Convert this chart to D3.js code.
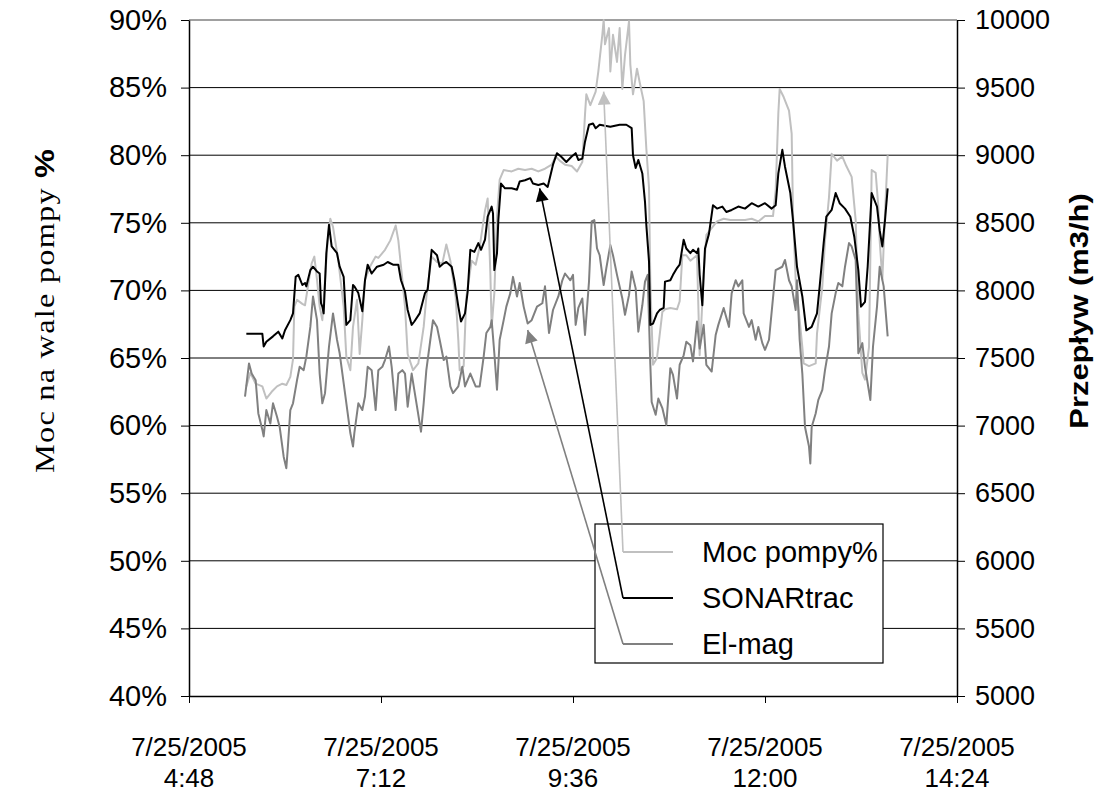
<!DOCTYPE html>
<html>
<head>
<meta charset="utf-8">
<script src="https://cdn.jsdelivr.net/npm/d3@7/dist/d3.min.js"></script>
<style>
  body { margin: 0; background: #fff; }
  text { font-family: "Liberation Sans", Arial, sans-serif; }
</style>
</head>
<body>
<div id="chart"></div>
<script>
// ---- data ----
const day = '2005-07-25';
const xTickTimes = ['4:48', '7:12', '9:36', '12:00', '14:24'];
const xTickDate = '7/25/2005';
const pctTicks = [0.40, 0.45, 0.50, 0.55, 0.60, 0.65, 0.70, 0.75, 0.80, 0.85, 0.90];
const flowTicks = [5000, 5500, 6000, 6500, 7000, 7500, 8000, 8500, 9000, 9500, 10000];

// Moc pompy% (left axis, %)
const pumpTimes = ['5:31','5:34','5:38','5:43','5:46','5:50','5:54','5:58','6:01','6:04','6:06','6:07','6:09','6:13','6:15','6:18','6:20','6:22','6:24','6:26','6:28','6:30','6:32','6:34','6:36','6:40','6:44','6:46','6:49','6:51','6:54','6:56','6:58','7:00','7:04','7:08','7:10','7:15','7:19','7:23','7:25','7:28','7:30','7:32','7:36','7:40','7:44','7:46','7:50','7:54','7:58','8:01','8:04','8:08','8:10','8:11','8:14','8:16','8:20','8:23','8:26','8:30','8:32','8:34','8:35','8:37','8:39','8:41','8:44','8:50','8:55','9:00','9:05','9:10','9:15','9:20','9:23','9:26','9:30','9:35','9:39','9:43','9:45','9:46','9:49','9:53','9:55','9:58','9:59','10:00','10:03','10:04','10:06','10:09','10:11','10:13','10:15','10:18','10:19','10:21','10:24','10:26','10:29','10:31','10:33','10:34','10:36','10:39','10:43','10:45','10:49','10:54','10:56','10:58','11:01','11:04','11:09','11:11','11:14','11:16','11:20','11:24','11:29','11:34','11:40','11:45','11:50','11:55','12:00','12:06','12:08','12:10','12:11','12:14','12:18','12:20','12:21','12:23','12:25','12:28','12:29','12:33','12:38','12:39','12:43','12:45','12:48','12:50','12:54','12:58','13:01','13:05','13:08','13:10','13:13','13:15','13:18','13:20','13:23','13:25','13:26','13:28','13:30','13:32'];
const pumpPct = [62.9,63.9,63.1,62.9,62.0,62.5,62.9,63.1,63.0,63.6,64.9,68.8,69.3,69.0,68.9,70.8,72.0,72.5,70.8,68.8,67.8,70.8,73.7,75.3,74.7,72.2,68.8,65.1,64.1,67.3,69.3,65.3,67.8,70.8,71.8,72.5,72.4,73.0,73.7,74.8,73.7,70.8,68.8,65.3,64.1,64.6,67.3,69.5,72.5,72.1,72.0,73.4,72.2,69.5,66.3,64.1,64.4,69.5,72.2,71.9,73.2,75.9,76.8,71.3,67.3,69.8,75.5,78.2,78.9,78.8,79.0,78.9,79.0,78.8,79.0,79.3,79.9,79.6,79.3,79.2,78.8,79.5,83.0,84.5,83.7,84.7,86.2,88.9,90.0,88.2,89.4,86.2,88.9,86.9,89.4,84.9,87.4,89.9,86.7,84.5,86.4,85.4,84.0,80.5,77.6,70.6,64.5,65.0,68.4,68.6,68.7,68.6,69.2,72.6,72.6,72.2,72.6,65.2,71.1,74.1,74.6,75.1,75.3,75.2,75.2,75.2,75.3,75.1,75.5,75.5,77.4,83.1,84.9,84.3,83.3,81.6,75.7,70.8,68.8,65.8,64.6,64.4,64.6,66.8,70.3,73.7,76.9,80.1,79.6,79.9,79.2,78.4,75.2,68.3,63.9,63.4,65.8,78.9,78.7,76.2,73.7,70.8,75.7,80.0];

// SONARtrac (right axis, m3/h)
const sonarTimes = ['5:31','5:43','5:44','5:46','5:51','5:55','5:58','6:00','6:04','6:06','6:08','6:10','6:13','6:15','6:16','6:19','6:21','6:24','6:26','6:27','6:28','6:29','6:31','6:33','6:35','6:39','6:41','6:44','6:46','6:49','6:51','6:52','6:55','6:58','7:00','7:02','7:05','7:09','7:14','7:17','7:21','7:25','7:27','7:30','7:32','7:35','7:37','7:41','7:45','7:47','7:50','7:54','7:56','7:59','8:01','8:05','8:07','8:10','8:12','8:15','8:17','8:19','8:22','8:25','8:27','8:30','8:32','8:35','8:36','8:37','8:39','8:40','8:42','8:45','8:50','8:54','8:56','9:00','9:04','9:06','9:10','9:14','9:17','9:21','9:24','9:27','9:31','9:35','9:38','9:40','9:43','9:45','9:48','9:51','9:53','9:56','10:04','10:11','10:16','10:20','10:21','10:23','10:25','10:28','10:30','10:31','10:33','10:34','10:36','10:39','10:41','10:44','10:45','10:49','10:51','10:54','10:56','10:59','11:01','11:04','11:06','11:09','11:10','11:11','11:13','11:14','11:15','11:18','11:21','11:24','11:28','11:31','11:35','11:40','11:45','11:50','11:55','12:00','12:05','12:08','12:10','12:13','12:15','12:19','12:21','12:24','12:28','12:31','12:35','12:39','12:41','12:44','12:46','12:50','12:53','12:56','13:00','13:04','13:07','13:10','13:12','13:15','13:17','13:20','13:24','13:26','13:28','13:30','13:32'];
const sonarFlow = [7680,7680,7585,7620,7660,7695,7645,7705,7780,7830,8100,8115,8040,8055,8030,8150,8175,8140,8125,7905,7880,7830,8275,8485,8325,8275,8175,8100,7745,7780,8040,8030,7980,7845,8075,8190,8125,8175,8190,8210,8190,8190,8075,7990,7855,7745,7770,7830,7980,8005,8300,8260,8175,8200,8210,8175,8075,7880,7770,7830,7990,8300,8285,8350,8300,8375,8545,8620,8570,8150,8275,8520,8790,8755,8755,8745,8805,8815,8830,8790,8780,8790,8765,8930,9015,8990,8950,8990,9015,8965,8975,9100,9225,9235,9200,9225,9210,9225,9225,9200,9000,8905,8965,8865,8655,8485,8215,7745,7755,7830,7855,7870,8065,8075,8115,8165,8190,8375,8310,8275,8300,8275,8310,8115,7890,8115,8310,8420,8630,8605,8620,8580,8595,8620,8605,8645,8620,8645,8605,8630,8865,9040,8915,8720,8520,8175,7955,7705,7730,7830,8030,8350,8545,8595,8720,8645,8605,8545,8395,8150,7880,7915,8175,8720,8620,8445,8325,8520,8755];

// El-mag (right axis, m3/h)
const elmagTimes = ['5:30','5:33','5:35','5:38','5:40','5:43','5:44','5:46','5:49','5:51','5:54','5:56','5:59','6:01','6:02','6:04','6:06','6:09','6:11','6:14','6:16','6:19','6:21','6:24','6:26','6:28','6:30','6:33','6:36','6:39','6:41','6:45','6:49','6:51','6:52','6:55','6:58','7:00','7:02','7:05','7:08','7:10','7:13','7:15','7:18','7:20','7:23','7:25','7:28','7:30','7:32','7:35','7:39','7:42','7:44','7:46','7:49','7:51','7:54','7:56','7:59','8:01','8:04','8:06','8:10','8:13','8:15','8:19','8:23','8:26','8:29','8:31','8:34','8:35','8:37','8:39','8:41','8:44','8:46','8:49','8:51','8:54','8:56','8:59','9:02','9:05','9:09','9:13','9:15','9:18','9:21','9:25','9:28','9:30','9:34','9:36','9:38','9:40','9:43','9:45','9:48','9:50','9:52','9:54','9:56','9:59','10:01','10:04','10:06','10:09','10:13','10:15','10:18','10:20','10:23','10:25','10:28','10:30','10:32','10:34','10:35','10:38','10:40','10:43','10:46','10:49','10:51','10:54','10:56','10:59','11:01','11:04','11:06','11:09','11:11','11:14','11:16','11:20','11:23','11:25','11:29','11:33','11:35','11:38','11:40','11:43','11:44','11:48','11:50','11:53','11:55','11:58','12:00','12:03','12:08','12:13','12:15','12:18','12:20','12:23','12:24','12:26','12:28','12:30','12:33','12:34','12:35','12:38','12:40','12:43','12:45','12:48','12:50','12:53','12:55','12:58','13:00','13:03','13:05','13:08','13:09','13:10','13:13','13:15','13:19','13:21','13:24','13:26','13:29','13:32'];
const elmagFlow = [7215,7460,7385,7335,7090,6970,6920,7115,7015,7165,7065,6990,6770,6685,6820,7115,7165,7335,7435,7410,7510,7730,7955,7780,7385,7165,7240,7585,7830,7635,7535,7240,6945,6845,6945,7165,7115,7215,7435,7410,7115,7410,7435,7485,7585,7435,7115,7385,7410,7385,7140,7385,7140,6955,7165,7410,7635,7780,7730,7635,7485,7510,7290,7240,7290,7435,7290,7385,7290,7290,7510,7685,7730,7780,7535,7265,7635,7780,7880,7980,8100,7955,8055,7880,7755,7780,7880,7905,8030,7685,7855,7955,8075,8125,8075,8115,7745,7870,7940,7670,8065,8510,8520,8310,8260,8040,8165,8335,8260,8115,7940,7820,7965,8140,8015,7695,7890,8065,8115,7450,7175,7080,7200,7130,7005,7425,7375,7200,7450,7520,7620,7595,7475,7770,7570,7745,7450,7400,7670,7745,7870,7730,7980,8075,8030,8075,7830,7730,7780,7635,7730,7610,7560,7635,8150,8175,8225,8075,8030,7855,8075,7635,7385,6990,6845,6720,6990,7090,7190,7265,7410,7585,7830,7980,8055,8030,8175,8350,8325,8225,7880,7535,7610,7435,7190,7585,7880,8175,8030,7660];

// legend entries and where their leader arrows point
const legendNames = ['Moc pompy%', 'SONARtrac', 'El-mag'];
const legendColors = ['#c0c0c0', '#000000', '#808080'];
const arrowTimes = ['9:59', '9:11', '9:02'];
const arrowValues = [84.7, 8755, 7707];   // first one on the % axis, the others on flow

// ---- layout ----
const W = 1097, H = 794;
const m = { left: 189, right: 957, top: 20, bottom: 696 };
const parse = d3.timeParse('%Y-%m-%d %H:%M');
const t = s => parse(day + ' ' + s);

const svg = d3.select('#chart').append('svg')
    .attr('width', W).attr('height', H);

const x = d3.scaleTime()
    .domain([t('4:48'), t('14:24')])
    .range([m.left, m.right]);
const yL = d3.scaleLinear().domain([0.40, 0.90]).range([m.bottom, m.top]);
const yR = d3.scaleLinear().domain([5000, 10000]).range([m.bottom, m.top]);

// gridlines
svg.append('g')
    .selectAll('line')
    .data(pctTicks.slice(1, -1))
    .join('line')
    .attr('x1', m.left).attr('x2', m.right)
    .attr('y1', d => yL(d)).attr('y2', d => yL(d))
    .attr('stroke', '#000').attr('stroke-width', 1);
svg.append('line')
    .attr('x1', m.left).attr('x2', m.right)
    .attr('y1', yL(0.90)).attr('y2', yL(0.90))
    .attr('stroke', '#808080').attr('stroke-width', 1.5);

// left axis
const axL = svg.append('g')
    .attr('transform', 'translate(' + m.left + ',0)')
    .call(d3.axisLeft(yL).tickValues(pctTicks).tickFormat(d3.format('.0%'))
        .tickSize(8).tickSizeOuter(0).tickPadding(14));
// right axis
const axR = svg.append('g')
    .attr('transform', 'translate(' + m.right + ',0)')
    .call(d3.axisRight(yR).tickValues(flowTicks).tickFormat(d3.format('d'))
        .tickSize(8).tickSizeOuter(0).tickPadding(10));
// bottom axis
const axB = svg.append('g')
    .attr('transform', 'translate(0,' + m.bottom + ')')
    .call(d3.axisBottom(x).tickValues(xTickTimes.map(t)).tickFormat('')
        .tickSize(7).tickSizeOuter(0));

[axL, axR, axB].forEach(a => {
    a.select('.domain').attr('stroke', '#000').attr('stroke-width', 1.5);
    a.selectAll('.tick line').attr('stroke', '#000');
    a.selectAll('.tick text').attr('fill', '#000')
        .attr('font-family', '"Liberation Sans", Arial, sans-serif');
});
axL.selectAll('.tick text').attr('font-size', 29);
axR.selectAll('.tick text').attr('font-size', 27);

const xl = svg.append('g').selectAll('text')
    .data(xTickTimes)
    .join('text')
    .attr('text-anchor', 'middle')
    .attr('font-size', 26)
    .attr('x', d => x(t(d)));
xl.append('tspan').attr('x', d => x(t(d))).attr('y', 756).text(xTickDate);
xl.append('tspan').attr('x', d => x(t(d))).attr('y', 787).text(d => d);

// axis titles (stretched along their length like the original)
const midY = 311;
const lt = svg.append('text')
    .attr('transform', 'translate(54,' + midY + ') rotate(-90) scale(1.2,1)')
    .attr('text-anchor', 'middle');
lt.append('tspan')
    .attr('font-family', '"Liberation Serif", "Times New Roman", serif')
    .attr('font-size', 27).attr('letter-spacing', 1)
    .text('Moc na wale pompy ');
lt.append('tspan')
    .attr('font-weight', 'bold').attr('font-size', 27)
    .text('%');

svg.append('text')
    .attr('transform', 'translate(1088,' + midY + ') rotate(-90) scale(1.19,1)')
    .attr('text-anchor', 'middle')
    .attr('font-weight', 'bold')
    .attr('font-size', 26)
    .text('Przepływ (m3/h)');

// series
const linePct = d3.line().x(d => x(t(d[0]))).y(d => yL(d[1] / 100));
const lineFlow = d3.line().x(d => x(t(d[0]))).y(d => yR(d[1]));

svg.append('path')
    .datum(d3.zip(pumpTimes, pumpPct))
    .attr('d', linePct)
    .attr('fill', 'none').attr('stroke', legendColors[0]).attr('stroke-width', 2)
    .attr('stroke-linejoin', 'round');
svg.append('path')
    .datum(d3.zip(elmagTimes, elmagFlow))
    .attr('d', lineFlow)
    .attr('fill', 'none').attr('stroke', legendColors[2]).attr('stroke-width', 2)
    .attr('stroke-linejoin', 'round');
svg.append('path')
    .datum(d3.zip(sonarTimes, sonarFlow))
    .attr('d', lineFlow)
    .attr('fill', 'none').attr('stroke', legendColors[1]).attr('stroke-width', 2)
    .attr('stroke-linejoin', 'round');

// legend
const lg = { x: 595, y: 524, w: 288, h: 139, row0: 28, rowStep: 46 };
svg.append('rect')
    .attr('x', lg.x).attr('y', lg.y).attr('width', lg.w).attr('height', lg.h)
    .attr('fill', '#fff').attr('stroke', '#000').attr('stroke-width', 1.2);

const rows = legendNames.map((n, i) => ({
    name: n, color: legendColors[i],
    y: lg.y + lg.row0 + i * lg.rowStep,
    tipX: x(t(arrowTimes[i])),
    tipY: i === 0 ? yL(arrowValues[i] / 100) : yR(arrowValues[i])
}));

const row = svg.append('g').selectAll('g').data(rows).join('g');
row.append('line')
    .attr('x1', lg.x + 28).attr('x2', lg.x + 78)
    .attr('y1', d => d.y).attr('y2', d => d.y)
    .attr('stroke', d => d.color).attr('stroke-width', 2);
row.append('text')
    .attr('x', lg.x + 107).attr('y', d => d.y + 10)
    .attr('font-size', 29)
    .text(d => d.name);

// leader arrows
const defs = svg.append('defs');
rows.forEach((d, i) => {
    defs.append('marker')
        .attr('id', 'arr' + i)
        .attr('viewBox', '0 0 10 10')
        .attr('refX', 10).attr('refY', 5)
        .attr('markerUnits', 'userSpaceOnUse')
        .attr('markerWidth', 16).attr('markerHeight', 13)
        .attr('orient', 'auto')
        .append('path')
        .attr('d', 'M0,0L10,5L0,10Z')
        .attr('fill', d.color);
});
row.append('line')
    .attr('x1', lg.x + 28).attr('y1', d => d.y)
    .attr('x2', d => d.tipX).attr('y2', d => d.tipY)
    .attr('stroke', d => d.color).attr('stroke-width', 1.6)
    .attr('marker-end', (d, i) => 'url(#arr' + i + ')');
</script>
</body>
</html>
